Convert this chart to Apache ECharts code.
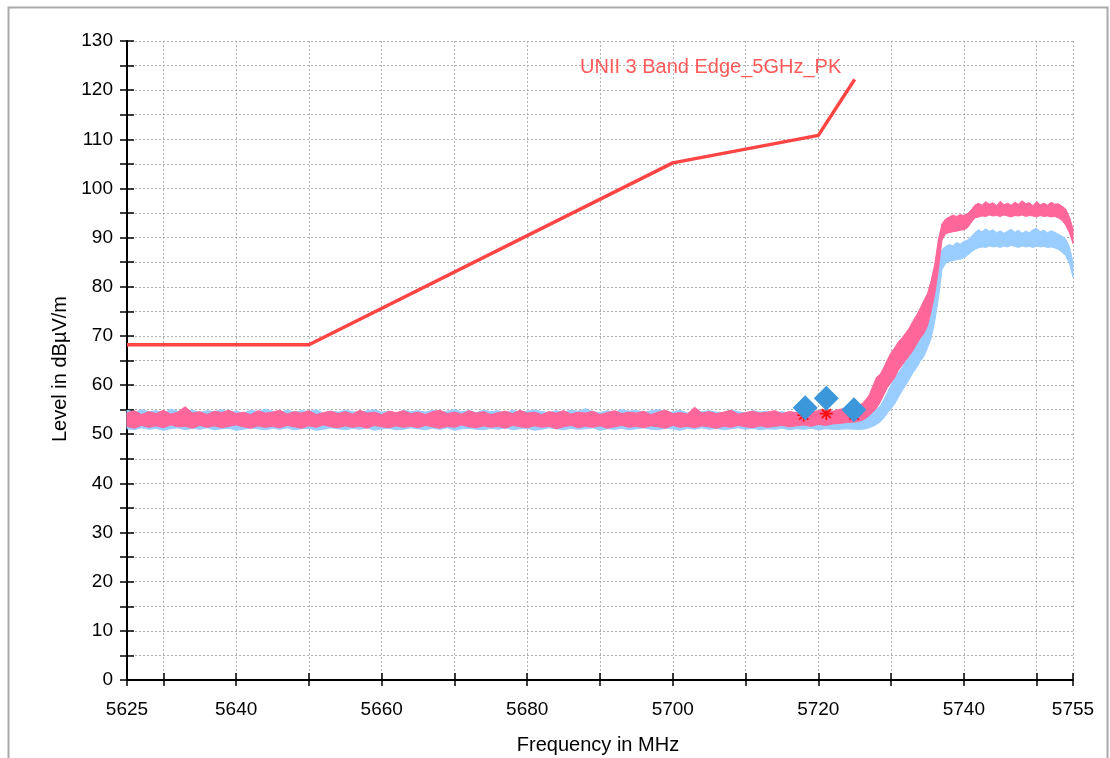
<!DOCTYPE html>
<html>
<head>
<meta charset="utf-8">
<script src="https://cdn.jsdelivr.net/npm/echarts@6/dist/echarts.min.js"></script>
<style>html,body{margin:0;padding:0;background:#fff}#c{width:1110px;height:758px}</style>
</head>
<body>
<div id="c"></div>
<script>
// ---- DATA ----
const chartTitle = 'UNII 3 Band Edge_5GHz_PK';
const xName = 'Frequency in MHz';
const yName = 'Level in dB\u00b5V/m';
const xTickValues = [5625, 5630, 5640, 5650, 5660, 5670, 5680, 5690, 5700, 5710, 5720, 5730, 5740, 5750, 5755];
const xLabelValues = [5625, 5640, 5660, 5680, 5700, 5720, 5740, 5755];
const yLabelValues = [0, 10, 20, 30, 40, 50, 60, 70, 80, 90, 100, 110, 120, 130];

// limit line breakpoints
const limitFreq = [5625, 5650, 5700, 5720, 5725];
const limitLevel = [68.2, 68.2, 105.2, 110.8, 122.2];

// trace sampling grid: 5625..5725 every 1 MHz, 5725.5..5755 every 0.5 MHz
function buildFreqs() {
  const f = [];
  for (let v = 5625; v <= 5725; v += 1) f.push(v);
  for (let i = 1; i <= 60; i++) f.push(5725 + i * 0.5);
  return f;
}
const freqs = buildFreqs();

// pink (peak) trace envelope
const pinkHi = [
  54.3,54.8,54.0,54.6,54.2,54.9,54.1,54.5,55.6,54.3,
  54.6,54.0,54.7,54.4,54.9,54.2,54.5,54.0,54.8,54.3,
  54.5,54.9,54.1,54.6,54.3,54.8,54.0,54.4,54.7,54.2,
  54.6,54.1,54.9,54.3,54.5,54.0,54.7,54.4,54.8,54.2,
  54.5,54.0,54.6,54.9,54.2,54.5,54.1,54.8,54.3,54.6,
  54.0,54.4,54.7,54.2,54.9,54.3,54.5,54.0,54.6,54.3,
  54.8,54.1,54.5,54.3,54.7,54.0,54.4,54.8,54.2,54.5,
  54.3,54.7,54.0,54.5,54.9,54.2,54.4,54.1,55.5,54.3,
  54.6,54.2,54.5,54.9,54.1,54.4,54.7,54.3,54.5,54.8,
  54.2,54.6,54.4,54.9,54.5,54.8,55.0,54.7,55.1,55.3,
  55.4,
  55.8,56.2,57.0,58.0,59.8,61.6,62.2,63.6,65.2,66.6,
  67.6,68.8,69.6,70.6,71.6,73.0,74.2,75.6,77.2,78.6,
  81.2,84.6,89.6,92.8,93.8,94.2,94.6,94.3,94.7,94.5,
  94.9,95.6,96.6,97.0,96.6,97.3,96.8,97.1,96.5,97.4,
  96.7,97.0,96.6,97.2,96.8,97.5,96.9,97.1,96.5,97.3,
  96.7,97.0,96.6,97.2,96.8,96.9,96.4,95.8,94.2,91.8
];
const pinkLo = [
  51.6,51.2,51.8,51.4,51.7,51.3,51.9,51.5,51.6,51.2,
  51.8,51.4,51.7,51.3,51.6,51.9,51.5,51.2,51.7,51.4,
  51.6,51.3,51.8,51.5,51.2,51.7,51.4,51.9,51.5,51.3,
  51.7,51.4,51.6,51.2,51.8,51.5,51.3,51.7,51.4,51.6,
  51.3,51.8,51.5,51.2,51.6,51.4,51.9,51.5,51.3,51.7,
  51.4,51.6,51.2,51.8,51.5,51.3,51.7,51.4,51.6,51.1,
  51.5,51.8,51.3,51.6,51.4,51.7,51.2,51.5,51.8,51.4,
  51.6,51.3,51.7,51.5,51.2,51.8,51.4,51.6,51.3,51.7,
  51.5,51.2,51.6,51.4,51.8,51.5,51.3,51.7,51.4,51.6,
  51.8,51.5,51.7,51.9,51.6,52.0,51.8,52.1,52.2,52.4,
  52.5,
  52.6,52.8,53.2,53.8,54.5,55.3,56.5,58.0,59.5,60.5,
  61.5,63.0,64.0,65.0,66.0,67.0,68.3,69.5,70.5,72.0,
  75.0,78.5,83.5,89.5,90.8,91.0,91.2,91.3,91.5,91.6,
  92.0,93.0,94.0,94.2,94.4,94.3,94.6,94.4,94.5,94.3,
  94.6,94.4,94.2,94.5,94.4,94.6,94.3,94.5,94.4,94.2,
  94.5,94.3,94.4,94.2,94.3,94.0,93.5,92.5,91.0,88.8
];
// light blue trace envelope
const blueHi = [
  54.9,54.4,55.0,54.6,54.8,54.3,55.1,54.7,54.5,54.9,
  54.4,54.8,54.6,55.0,54.5,54.7,54.3,54.9,54.6,55.1,
  54.7,54.4,54.9,54.5,54.8,54.6,55.0,54.3,54.7,54.5,
  54.9,54.6,54.4,54.8,55.0,54.5,54.7,54.3,54.9,54.6,
  54.8,54.5,54.9,54.4,54.7,55.0,54.6,54.8,54.4,54.9,
  54.6,54.8,54.3,54.9,54.5,54.7,55.0,54.6,54.4,54.8,
  54.5,54.9,54.7,55.2,54.6,54.4,54.8,54.5,55.0,54.7,
  54.9,54.4,54.8,55.0,54.6,54.5,54.9,54.3,54.7,54.6,
  54.8,54.5,54.4,54.9,54.6,54.3,54.8,54.5,54.7,54.4,
  54.6,54.3,54.5,54.2,54.4,54.0,54.1,53.8,53.7,53.4,
  53.3,
  53.2,53.3,53.5,53.8,54.3,55.0,55.8,57.0,58.5,60.0,
  61.3,62.5,63.5,64.8,65.8,67.0,68.5,70.0,71.5,73.0,
  76.0,79.5,84.0,87.6,88.2,88.6,88.3,89.0,88.7,89.2,
  89.5,90.2,91.0,91.6,91.2,91.8,91.3,91.6,91.0,91.4,
  90.9,91.3,91.7,91.1,91.5,90.9,91.3,91.0,91.6,91.9,
  91.2,91.5,91.0,91.4,91.1,90.7,90.3,89.7,88.2,85.0
];
const blueLo = [
  51.1,50.9,51.3,51.0,51.2,50.8,51.1,51.3,50.9,51.2,
  51.0,51.3,50.9,51.1,51.2,50.8,51.0,51.3,51.1,50.9,
  51.2,51.0,51.3,50.9,51.1,51.2,50.8,51.0,51.3,51.1,
  50.9,51.2,51.0,51.3,50.8,51.1,51.2,50.9,51.0,51.3,
  51.1,50.9,51.2,51.0,51.3,50.8,51.1,51.2,51.0,50.9,
  51.2,51.0,51.3,50.9,51.1,51.2,50.8,51.0,51.3,51.1,
  50.9,51.2,51.0,51.1,51.3,50.8,51.1,51.0,51.2,50.9,
  51.1,51.3,51.0,50.9,51.2,51.1,50.8,51.2,51.0,51.3,
  51.0,51.2,50.9,51.1,51.3,51.0,51.2,50.9,51.1,51.0,
  51.2,50.9,51.1,51.0,51.2,50.9,51.1,51.0,51.0,51.1,
  51.0,
  51.0,51.0,51.1,51.3,51.6,52.0,52.5,53.3,54.3,55.2,
  56.2,57.5,58.8,60.0,61.2,62.5,63.5,64.8,65.8,67.5,
  69.5,73.0,77.5,83.5,84.8,85.2,85.3,85.5,85.6,85.9,
  86.4,87.0,87.6,87.9,88.1,88.0,88.3,88.1,88.2,88.0,
  88.3,88.1,88.4,88.2,88.0,88.3,88.1,88.2,88.0,88.3,
  88.1,88.2,88.0,88.1,87.9,87.6,87.0,86.3,84.8,82.0
];

// markers
const diamondFreq = [5718.2, 5721.1, 5724.9];
const diamondLevel = [55.4, 57.3, 55.0];
const starFreq = [5718.0, 5721.1, 5724.9];
const starLevel = [53.9, 54.2, 53.9];

// ---- BUILD ----
const pairs = (xs, ys) => xs.map((x, i) => [x, ys[i]]);

const FONT = '"Liberation Sans", Arial, sans-serif';
const PINK = '#ff6699';
const BLUE = '#99ccff';
const GRIDC = '#b0b0b0';

const starPath = 'path://M-0.9,-6.5L0.9,-6.5L0.9,6.5L-0.9,6.5Z M-6.5,-0.9L6.5,-0.9L6.5,0.9L-6.5,0.9Z M-5.2,-3.9L-3.9,-5.2L5.2,3.9L3.9,5.2Z M3.9,-5.2L5.2,-3.9L-3.9,5.2L-5.2,3.9Z';

// band polygon (upper envelope forward, lower envelope backward), positioned via api.coord
function bandRenderer(hi, lo, color) {
  return function (params, api) {
    const pts = [];
    for (let i = 0; i < freqs.length; i++) pts.push(api.coord([freqs[i], hi[i]]));
    for (let i = freqs.length - 1; i >= 0; i--) pts.push(api.coord([freqs[i], lo[i]]));
    return {
      type: 'polygon',
      shape: {points: pts},
      style: {fill: color, stroke: color, lineWidth: 1}
    };
  };
}

const chart = echarts.init(document.getElementById('c'), null, {renderer: 'canvas'});
const xBase = {type: 'value', min: 5625, max: 5755, position: 'bottom'};
const yBase = {type: 'value', min: 0, max: 130, interval: 5, position: 'left'};
chart.setOption({
  animation: false,
  backgroundColor: '#ffffff',
  grid: {left: 127, right: 37, top: 41, bottom: 78, containLabel: false},
  xAxis: [
    Object.assign({}, xBase, {
      axisLine: {show: true, onZero: false, lineStyle: {color: '#000', width: 2}},
      axisTick: {show: true, inside: false, length: 6, customValues: xTickValues, lineStyle: {color: '#000', width: 1.5}},
      axisLabel: {show: true, customValues: xLabelValues, margin: 20, color: '#000', fontSize: 19, fontFamily: FONT,
                  formatter: v => String(v)},
      splitLine: {show: true, lineStyle: {color: GRIDC, type: [2, 2], width: 1}}
    }),
    Object.assign({}, xBase, {
      axisLine: {show: false, onZero: false},
      axisTick: {show: true, inside: true, length: 7, customValues: xTickValues, lineStyle: {color: '#000', width: 1.5}},
      axisLabel: {show: false},
      splitLine: {show: false}
    })
  ],
  yAxis: [
    Object.assign({}, yBase, {
      axisLine: {show: true, onZero: false, lineStyle: {color: '#000', width: 2}},
      axisTick: {show: true, inside: false, length: 7, lineStyle: {color: '#000', width: 1.5}},
      axisLabel: {show: true, customValues: yLabelValues, margin: 14, color: '#000', fontSize: 19, fontFamily: FONT,
                  formatter: v => String(v)},
      splitLine: {show: true, lineStyle: {color: GRIDC, type: [2, 2], width: 1}}
    }),
    Object.assign({}, yBase, {
      axisLine: {show: false, onZero: false},
      axisTick: {show: true, inside: true, length: 7, lineStyle: {color: '#000', width: 1.5}},
      axisLabel: {show: false},
      splitLine: {show: false}
    })
  ],
  series: [
    {type: 'custom', data: [[5625, 50]], renderItem: bandRenderer(blueHi, blueLo, BLUE), silent: true, z: 2},
    {type: 'custom', data: [[5625, 50]], renderItem: bandRenderer(pinkHi, pinkLo, PINK), silent: true, z: 3},
    {type: 'line', data: pairs(limitFreq, limitLevel), symbol: 'none',
     lineStyle: {color: '#ff4444', width: 3.5}, z: 4},
    {type: 'scatter', data: pairs(starFreq, starLevel), symbol: starPath, symbolSize: 13,
     itemStyle: {color: '#ff1010', opacity: 1}, z: 5},
    {type: 'scatter', data: pairs(diamondFreq, diamondLevel), symbol: 'diamond', symbolSize: 25,
     itemStyle: {color: '#3b97da', opacity: 1}, z: 6}
  ],
  graphic: [
    {type: 'rect', left: 6, top: 5, shape: {x: 0, y: 0, width: 1099, height: 752},
     style: {fill: 'none', stroke: '#aaaaaa', lineWidth: 2}, silent: true, z: -1},
    {type: 'text', x: 580, y: 67, style: {text: chartTitle, fill: '#ff5a5a', font: '20px ' + FONT, align: 'left', verticalAlign: 'middle'}, z: 10},
    {type: 'text', x: 598, y: 745, style: {text: xName, fill: '#000', font: '20px ' + FONT, align: 'center', verticalAlign: 'middle'}, z: 10},
    {type: 'text', x: 60, y: 369, rotation: Math.PI / 2, style: {text: yName, fill: '#000', font: '20px ' + FONT, align: 'center', verticalAlign: 'middle'}, z: 10}
  ]
});
</script>
</body>
</html>
